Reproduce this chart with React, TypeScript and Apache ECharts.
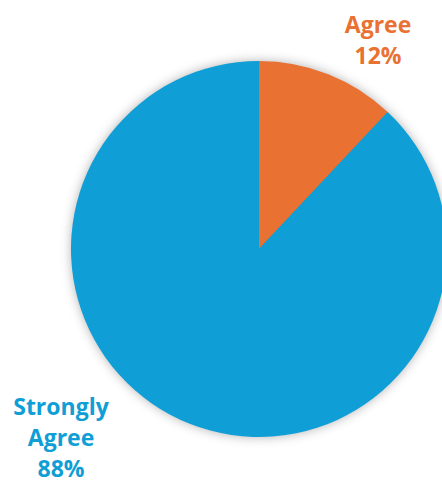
import React, { useEffect, useRef } from "react";
import * as echarts from "echarts";

const categories = ["Agree", "Strongly Agree"];
const values = [12, 88];
const labelLines = [["Agree", "12%"], ["Strongly", "Agree", "88%"]];
const colors = ["#E97132", "#0F9ED5"];
const labelPos = [
  [378, 39],
  [61, 437],
];

export default function App() {
  const ref = useRef<HTMLDivElement>(null);
  useEffect(() => {
    const chart = echarts.init(ref.current!, null, { renderer: "svg" });
    chart.setOption({
      animation: false,
      backgroundColor: "#ffffff",
      series: [
        {
          type: "pie",
          silent: true,
          center: [259, 249],
          radius: [0, 187],
          data: [{ name: "shadow", value: 1 }],
          itemStyle: {
            color: "#0F9ED5",
            shadowBlur: 12,
            shadowColor: "rgba(0,0,0,0.35)",
          },
          label: { show: false },
          labelLine: { show: false },
          emphasis: { disabled: true },
          z: 1,
        },
        {
          type: "pie",
          center: [259, 249],
          radius: [0, 188],
          startAngle: 90,
          clockwise: true,
          z: 2,
          data: categories.map((c, i) => ({
            name: c,
            value: values[i],
            itemStyle: { color: colors[i] },
            label: { color: colors[i] },
          })),
          itemStyle: { borderWidth: 0 },
          label: {
            show: true,
            position: "outside",
            formatter: (p: any) => labelLines[p.dataIndex].join("\n"),
            fontFamily: "Open Sans",
            fontWeight: "bold",
            fontSize: 23,
            lineHeight: 31,
            align: "center",
            verticalAlign: "middle",
            overflow: "none",
            width: 200,
          },
          labelLine: { show: false },
          labelLayout: (p: any) => ({
            x: labelPos[p.dataIndex][0],
            y: labelPos[p.dataIndex][1],
            align: "center",
            verticalAlign: "middle",
          }),
          emphasis: { disabled: true },
        },
      ],
    });
    return () => chart.dispose();
  }, []);
  return (
    <div
      ref={ref}
      style={{ position: "fixed", left: 0, top: 0, width: 442, height: 484 }}
    />
  );
}
